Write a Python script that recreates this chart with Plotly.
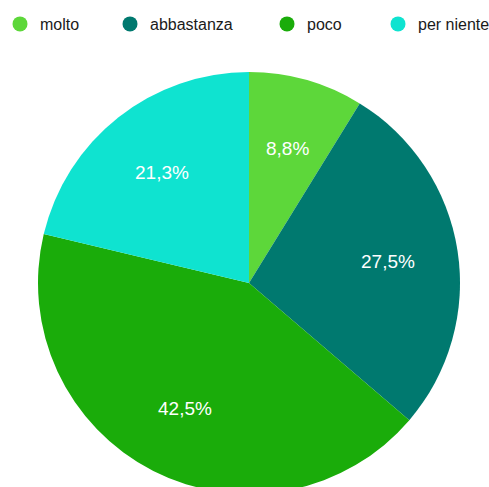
import math
import plotly.graph_objects as go

# Survey answers and their shares (percent)
categories = ["molto", "abbastanza", "poco", "per niente"]
shares = [8.8, 27.5, 42.5, 21.3]
colors = ["#5dd73a", "#00796f", "#1aac0a", "#0fe3d0"]

# Italian-style percentage labels (decimal comma)
labels_text = [f"{v:.1f}".replace(".", ",") + "%" for v in shares]

FONT = "Liberation Sans, Arial, sans-serif"
LABEL_RADIUS = 0.665  # label distance from centre, as a fraction of the pie radius

fig = go.Figure()

fig.add_trace(go.Pie(
    labels=categories,
    values=shares,
    textinfo="none",
    marker=dict(colors=colors, line=dict(width=0)),
    sort=False,
    direction="clockwise",
    rotation=0,
    showlegend=False,
    hoverinfo="label+percent",
    domain=dict(x=[0, 1], y=[0, 1]),
))

# Percentage labels placed on each slice's mid-angle (clockwise from 12 o'clock)
total = sum(shares)
start = 0.0
for value, txt in zip(shares, labels_text):
    mid = (start + value / 2) / total * 2 * math.pi
    start += value
    fig.add_annotation(
        x=0.5 + 0.5 * LABEL_RADIUS * math.sin(mid),
        y=0.5 + 0.5 * LABEL_RADIUS * math.cos(mid),
        xref="paper", yref="paper",
        text=txt, showarrow=False,
        xanchor="center", yanchor="middle",
        font=dict(color="white", size=19, family=FONT),
    )

# One legend per category so each entry can sit at its own spot along the top
legend_x = [-4, 110, 267, 378]
layout_legends = {}
for i, (name, col) in enumerate(zip(categories, colors)):
    key = "legend" if i == 0 else f"legend{i + 1}"
    fig.add_trace(go.Scatter(
        x=[None], y=[None], mode="markers", name=name,
        marker=dict(color=col, size=15, symbol="circle"),
        showlegend=True, legend=key,
    ))
    layout_legends[key] = dict(
        orientation="h",
        xref="container", yref="container",
        x=legend_x[i] / 489, y=0.986, xanchor="left", yanchor="top",
        font=dict(size=16, family=FONT, color="#1a1a1a"),
        itemclick=False, bgcolor="rgba(0,0,0,0)",
    )

fig.update_layout(
    width=489,
    height=500,
    autosize=False,
    margin=dict(l=38, r=29, t=72, b=6),
    paper_bgcolor="white",
    plot_bgcolor="white",
    xaxis=dict(visible=False),
    yaxis=dict(visible=False),
    **layout_legends,
)

fig.write_html("out.html", post_script="document.body.style.margin='0';document.body.style.overflow='hidden';")
